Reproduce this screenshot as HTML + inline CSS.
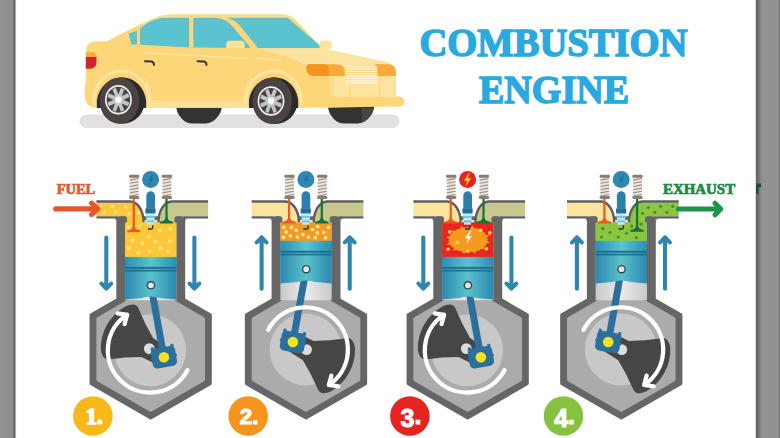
<!DOCTYPE html>
<html><head><meta charset="utf-8"><title>Combustion Engine</title>
<style>html,body{margin:0;padding:0;background:#fff;}svg{display:block;}</style></head>
<body><svg width="780" height="438" viewBox="0 0 780 438" font-family="Liberation Serif, serif">
<defs>
<linearGradient id="pist" x1="0" x2="1" y1="0" y2="0"><stop offset="0" stop-color="#2b88b1"/><stop offset="0.5" stop-color="#5bc2ca"/><stop offset="1" stop-color="#2b88b1"/></linearGradient>
<linearGradient id="pistTop" x1="0" x2="1" y1="0" y2="0"><stop offset="0" stop-color="#2d8db5"/><stop offset="0.5" stop-color="#5dc3cc"/><stop offset="1" stop-color="#2d8db5"/></linearGradient>
<linearGradient id="bore" x1="0" x2="1" y1="0" y2="0"><stop offset="0" stop-color="#c9c9c9"/><stop offset="0.5" stop-color="#ececec"/><stop offset="1" stop-color="#c9c9c9"/></linearGradient>
<linearGradient id="lbar" x1="0" x2="1"><stop offset="0" stop-color="#949494"/><stop offset="0.78" stop-color="#8c8c8c"/><stop offset="0.9" stop-color="#5a5a5a"/><stop offset="1" stop-color="#e8e8e8"/></linearGradient>
<linearGradient id="rbar" x1="0" x2="1"><stop offset="0" stop-color="#5e5e5e"/><stop offset="0.1" stop-color="#6e6e6e"/><stop offset="0.25" stop-color="#929292"/><stop offset="0.93" stop-color="#929292"/><stop offset="1" stop-color="#666"/></linearGradient>
<clipPath id="clipIn"><path d="M96.4 202.6 H130.25 A13.5 20.6 0 0 1 143.75 224 H125.1 V216.3 H96.4 Z"/></clipPath>
<clipPath id="clipEx"><path d="M208.1 202.6 H171.75 A13.5 20.6 0 0 0 158.25 224 H176.4 V216.3 H208.1 Z"/></clipPath>
</defs>
<rect width="780" height="438" fill="#fff"/>
<rect x="79.5" y="114.4" width="320" height="13.6" rx="6.8" fill="#e2e1e1"/><path d="M176.2 106 L176.2 107.5 Q177.5 116 185 121.5 Q188 123.5 192 123.5 L205 123.5 Q209 123.5 212.5 121.5 Q220.5 116 221.9 107.5 L221.9 106 Z" fill="#333333"/><path d="M328 106 L328 107.5 Q329.3 116 336.8 121.5 Q339.8 123.5 343.8 123.5 L357.2 123.5 Q361.2 123.5 364.7 121.5 Q372.7 116 374 107.5 L374 106 Z" fill="#333333"/><path d="M362 108 L374 108 Q372 118 362 122 Z" fill="#4a4443"/><path d="M93 41.5 L107 41.3 Q128 30 152 19 Q162 14.2 176 14.2 L282 14.2 Q290 14.5 295 19.5 L322.6 48.5 L386 62 Q392 63.5 393.5 67 L396 96 L400 97 Q404.2 97.5 404.2 101.5 Q404.2 106.2 399.5 106.2 L330 107.7 L96 107.7 Q86 107.4 85 98 L84.5 88 Q85.8 86 85.8 80 L85.8 52 Q86.5 43 93 41.5 Z" fill="#fdd67a"/><path d="M152 19 Q162 14.2 176 14.2 L282 14.2 Q290 14.5 295 19.5 L160 19.5 Z" fill="#fde09a" opacity="0.6"/><path d="M258 48.5 L322.6 48.5 L386 62 Q392 63.5 393.5 67 L306 65 Q290 57 258 48.5 Z" fill="#fde3a0"/><path d="M329 76 L396 76 L396 97.1 L331.5 97.1 Z" fill="#fde3a0"/><path d="M332 76 L333.5 97 M349.4 76 L350.5 97 M380.4 76 L379.6 97" stroke="#fbd57c" stroke-width="1" fill="none"/><rect x="332" y="97.1" width="72.2" height="9.1" rx="4.5" fill="#fdd67a"/><path d="M128.5 33.8 L137 30.8 L137 44.6 L131.5 44.6 Z" fill="#5bc3cf"/><path d="M140 28.5 Q150 20 162 17.8 L189.2 17.8 L189.2 47.4 L140 44.8 Z" fill="#5bc3cf"/><path d="M193.3 17.8 L216 17.8 Q226 18.5 233 27 L250.8 48 L193.3 47.6 Z" fill="#5bc3cf"/><path d="M226.2 17.8 L287.7 17.8 L322.6 48 L258 48 L240 26 Q234 19 226.2 17.8 Z" fill="#5bc3cf"/><path d="M226.2 48 L226.2 44.5 Q226.2 40.8 230 40.8 L240.8 40.8 Q244.6 40.8 244.6 44.5 L244.6 48 Z" fill="#fde39a"/><rect x="319.2" y="40.5" width="12.8" height="9.1" rx="4.2" fill="#fde39a"/><path d="M85.8 57 L85.8 54.5 Q85.8 52.2 88.5 52.2 L93 52.2 Q96.5 52.5 96.5 57 Z" fill="#f7aa35"/><path d="M85.8 57 L96.5 57 L96.5 62 Q96.5 68.7 90 68.7 L85.8 68.7 Z" fill="#d0262e"/><path d="M143.8 52.3 L187.7 55.4 M180 54.8 L247.7 58.3 M253.8 58.3 L280.5 60.3" stroke="#fde6a7" stroke-width="1.3" fill="none"/><path d="M145 61.2 L151.5 61.5 Q154 62 154 65" stroke="#3b3434" stroke-width="1.9" fill="none" stroke-linecap="round"/><path d="M197.6 61.2 L204 61.5 Q206.5 62 206.5 65" stroke="#3b3434" stroke-width="1.9" fill="none" stroke-linecap="round"/><path d="M309 64.2 L336 64.2 Q344.8 64.5 344.8 72 L344.8 76.1 L314 76.1 Q306.4 75 306.4 68 Q306.4 64.2 309 64.2 Z" fill="#f9ab3a"/><path d="M309 64.2 L324 64.2 Q329.3 65 329.3 72 L329.3 76.1 L314 76.1 Q306.4 75 306.4 68 Q306.4 64.2 309 64.2 Z" fill="#f6931e"/><path d="M374.9 64.2 L388 64.2 Q396 64.5 396 72 L396 76.1 L378 76.1 Q377 68 374.9 64.2 Z" fill="#f9ab3a"/><rect x="345.5" y="66.3" width="32" height="1.2" fill="#fff5dc"/><rect x="345.5" y="68.6" width="32" height="1.2" fill="#fff5dc"/><rect x="345.5" y="70.9" width="32" height="1.2" fill="#fff5dc"/><rect x="345.5" y="73.2" width="32" height="1.2" fill="#fff5dc"/><rect x="346.5" y="75.5" width="30.5" height="1.2" fill="#fff5dc"/><rect x="346.5" y="77.8" width="30.5" height="1.2" fill="#fff5dc"/><rect x="346.5" y="80.1" width="30.5" height="1.2" fill="#fff5dc"/><rect x="346.5" y="82.4" width="30.5" height="1.2" fill="#fff5dc"/><rect x="148" y="102.6" width="100" height="5.1" fill="#fde296"/><path d="M146 78 Q150 92 150.5 99 Q151 101.5 154 101.5 L241 101.5 Q244 101.5 244.5 98 Q246 85 252 78" stroke="#fde49c" stroke-width="1.5" fill="none"/><path d="M93.9 106 L93.9 101 A27.6 30 0 0 1 149.1 101 L149.1 106" stroke="#fde4a0" stroke-width="3" fill="none"/><path d="M96.9 108 L96.9 100 A25 27.5 0 0 1 146.1 100 L146.1 108 Z" fill="#2e2e2e"/><ellipse cx="122.3" cy="100.6" rx="22.6" ry="23.2" fill="#2c2a2a"/><ellipse cx="119.4" cy="100.6" rx="19.8" ry="23.2" fill="#4b4442"/><g transform="translate(118.4 99.8) scale(0.905 1)"><circle r="14.8" fill="#f2f2f2"/><circle r="13" fill="#454545"/><line x1="4.16" y1="1.72" x2="11.27" y2="4.67" stroke="#c4c4c4" stroke-width="4"/><line x1="1.72" y1="4.16" x2="4.67" y2="11.27" stroke="#c4c4c4" stroke-width="4"/><line x1="-1.72" y1="4.16" x2="-4.67" y2="11.27" stroke="#c4c4c4" stroke-width="4"/><line x1="-4.16" y1="1.72" x2="-11.27" y2="4.67" stroke="#c4c4c4" stroke-width="4"/><line x1="-4.16" y1="-1.72" x2="-11.27" y2="-4.67" stroke="#c4c4c4" stroke-width="4"/><line x1="-1.72" y1="-4.16" x2="-4.67" y2="-11.27" stroke="#c4c4c4" stroke-width="4"/><line x1="1.72" y1="-4.16" x2="4.67" y2="-11.27" stroke="#c4c4c4" stroke-width="4"/><line x1="4.16" y1="-1.72" x2="11.27" y2="-4.67" stroke="#c4c4c4" stroke-width="4"/><circle r="5.8" fill="#c4c4c4"/><circle r="3.4" fill="#fff"/></g><path d="M246 106 L246 101 A27.6 30 0 0 1 301.2 101 L301.2 106" stroke="#fde4a0" stroke-width="3" fill="none"/><path d="M249 108 L249 100 A25 27.5 0 0 1 298.2 100 L298.2 108 Z" fill="#2e2e2e"/><ellipse cx="275.1" cy="100.8" rx="22.6" ry="23.2" fill="#2c2a2a"/><ellipse cx="272.2" cy="100.8" rx="19.8" ry="23.2" fill="#4b4442"/><g transform="translate(271 101) scale(0.905 1)"><circle r="14.8" fill="#f2f2f2"/><circle r="13" fill="#454545"/><line x1="4.16" y1="1.72" x2="11.27" y2="4.67" stroke="#c4c4c4" stroke-width="4"/><line x1="1.72" y1="4.16" x2="4.67" y2="11.27" stroke="#c4c4c4" stroke-width="4"/><line x1="-1.72" y1="4.16" x2="-4.67" y2="11.27" stroke="#c4c4c4" stroke-width="4"/><line x1="-4.16" y1="1.72" x2="-11.27" y2="4.67" stroke="#c4c4c4" stroke-width="4"/><line x1="-4.16" y1="-1.72" x2="-11.27" y2="-4.67" stroke="#c4c4c4" stroke-width="4"/><line x1="-1.72" y1="-4.16" x2="-4.67" y2="-11.27" stroke="#c4c4c4" stroke-width="4"/><line x1="1.72" y1="-4.16" x2="4.67" y2="-11.27" stroke="#c4c4c4" stroke-width="4"/><line x1="4.16" y1="-1.72" x2="11.27" y2="-4.67" stroke="#c4c4c4" stroke-width="4"/><circle r="5.8" fill="#c4c4c4"/><circle r="3.4" fill="#fff"/></g>
<text x="553.4" y="56.3" text-anchor="middle" font-family="Liberation Serif" font-weight="bold" font-size="40.5" fill="#2aa8e0" stroke="#2aa8e0" stroke-width="1.5" textLength="268" lengthAdjust="spacingAndGlyphs">COMBUSTION</text>
<text x="554" y="103.2" text-anchor="middle" font-family="Liberation Serif" font-weight="bold" font-size="40" fill="#2aa8e0" stroke="#2aa8e0" stroke-width="1.5" textLength="150" lengthAdjust="spacingAndGlyphs">ENGINE</text>
<g transform="translate(0 0)"><polygon points="150.7,280.61 210.14,314.93 210.14,383.57 150.7,417.89 91.26,383.57 91.26,314.93" fill="#666666" stroke="#666666" stroke-width="3.4" stroke-linejoin="round"/><rect x="116.3" y="216.3" width="68.9" height="90" fill="#666666"/><polygon points="150.7,288.85 203.01,319.05 203.01,379.45 150.7,409.65 98.39,379.45 98.39,319.05" fill="#ababab" stroke="#ababab" stroke-width="4" stroke-linejoin="round"/><rect x="125.1" y="220" width="51.3" height="80.3" fill="url(#bore)"/><circle cx="150.1" cy="350.3" r="36" fill="#c8c8c8"/><path d="M100.81 349.45 A48.5 48.5 0 0 1 125.79 306.18 Q136.75 301.75 139.04 309.78 Q145.04 324.49 153.07 338.07 L167.72 347.69 A10 10 0 0 1 157.72 365.01 L142.07 357.13 Q126.29 356.96 110.55 359.13 Q102.45 361.15 100.81 349.45 Z" fill="#464646"/><circle cx="149.3" cy="348.6" r="5.4" fill="#dcdcdc"/><line x1="150.9" y1="285.3" x2="163.9" y2="357.2" stroke="#2c6f9d" stroke-width="7"/><g transform="translate(163.9 357.2) rotate(79.75)"><rect x="-10" y="-12.3" width="20" height="24.6" rx="4.5" fill="#2c6f9d"/><rect x="-11.8" y="-11.5" width="4" height="3.2" rx="1" fill="#2c6f9d"/><rect x="-11.8" y="8.3" width="4" height="3.2" rx="1" fill="#2c6f9d"/><rect x="-1.2" y="-13.2" width="2.6" height="26.4" rx="1" fill="#2c6f9d"/></g><circle cx="163.9" cy="357.2" r="5.3" fill="#f3e321"/><path d="M187.45 370.16 A42.3 42.3 0 1 1 127.06 314.82" stroke="#fff" stroke-width="4.3" fill="none" stroke-linecap="round"/><path d="M117.68 313.34 L127.06 314.82 L124.6 324" stroke="#fff" stroke-width="4.3" fill="none" stroke-linecap="round" stroke-linejoin="round"/><g><path d="M125.1 256.6 H176.4 V299.6 L159.75 298.1 Q150.75 295.1 141.75 298.1 L125.1 299.6 Z" fill="url(#pist)"/><rect x="125.1" y="256.6" width="51.3" height="10.3" fill="url(#pistTop)"/><rect x="125.1" y="266.9" width="51.3" height="1.9" fill="#1d6f91"/><rect x="125.1" y="269.9" width="51.3" height="1.6" fill="#1d6f91"/></g><circle cx="150.9" cy="285.3" r="4.3" fill="#2f4b5a"/><circle cx="150.9" cy="285.3" r="2.9" fill="#e9e4e4"/><path d="M96.4 202.6 H130.25 A13.5 20.6 0 0 1 143.75 224 H125.1 V216.3 H96.4 Z" fill="#fcc83a"/><circle cx="101" cy="206.3" r="1.8" fill="#fde28c"/><circle cx="112.5" cy="206.3" r="1.8" fill="#fde28c"/><circle cx="125.8" cy="207.3" r="1.8" fill="#fde28c"/><circle cx="104" cy="212.4" r="1.8" fill="#fde28c"/><circle cx="115.5" cy="212.4" r="1.8" fill="#fde28c"/><circle cx="129.2" cy="213.8" r="1.8" fill="#fde28c"/><circle cx="138.5" cy="213" r="1.8" fill="#fde28c"/><path d="M96.4 201.45 H130.25 A13.5 20.6 0 0 1 143.55 222.5" stroke="#5e5e5e" stroke-width="2.4" fill="none"/><rect x="96.4" y="216.3" width="20.9" height="2.2" fill="#5e5e5e"/><path d="M208.1 202.6 H171.75 A13.5 20.6 0 0 0 158.25 224 H176.4 V216.3 H208.1 Z" fill="#c9c88c"/><path d="M208.1 201.45 H171.75 A13.5 20.6 0 0 0 158.45 222.5" stroke="#5e5e5e" stroke-width="2.4" fill="none"/><rect x="184.2" y="216.3" width="23.9" height="2.2" fill="#5e5e5e"/><path d="M112.8 218.4 L116.3 218.4 L116.3 221.9 A3.5 3.5 0 0 0 112.8 218.4 Z" fill="#666666"/><path d="M188.7 218.4 L185.2 218.4 L185.2 221.9 A3.5 3.5 0 0 1 188.7 218.4 Z" fill="#666666"/><rect x="125.1" y="222.3" width="51.3" height="34.6" fill="#fcc83a"/><circle cx="128.6" cy="227.1" r="1.9" fill="#fde28c"/><circle cx="139.2" cy="225.7" r="1.9" fill="#fde28c"/><circle cx="159.8" cy="230.5" r="1.9" fill="#fde28c"/><circle cx="170.3" cy="228.5" r="1.9" fill="#fde28c"/><circle cx="148.8" cy="236.7" r="1.9" fill="#fde28c"/><circle cx="132.5" cy="240.5" r="1.9" fill="#fde28c"/><circle cx="142.1" cy="243.4" r="1.9" fill="#fde28c"/><circle cx="155.5" cy="241.5" r="1.9" fill="#fde28c"/><circle cx="169.9" cy="241" r="1.9" fill="#fde28c"/><circle cx="129.1" cy="248.2" r="1.9" fill="#fde28c"/><circle cx="138.2" cy="253" r="1.9" fill="#fde28c"/><circle cx="149.7" cy="251.6" r="1.9" fill="#fde28c"/><circle cx="160.3" cy="248.2" r="1.9" fill="#fde28c"/><circle cx="167.9" cy="251.1" r="1.9" fill="#fde28c"/><rect x="118.3" y="216.3" width="8.8" height="6.6" rx="2.6" fill="#666666"/><rect x="174.4" y="216.3" width="8.8" height="6.6" rx="2.6" fill="#666666"/><rect x="132.7" y="198" width="2.2" height="32.5" fill="#e85a24"/><path d="M132.7 226.8 Q132.2 230.1 127.1 230.5 L127.1 232.2 L140.5 232.2 L140.5 230.5 Q135.4 230.1 134.9 226.8 Z" fill="#e85a24"/><rect x="165.4" y="198" width="2.2" height="23.7" fill="#13723a"/><path d="M165.4 218 Q164.9 221.3 159.8 221.7 L159.8 223.4 L173.2 223.4 L173.2 221.7 Q168.1 221.3 167.6 218 Z" fill="#13723a"/><rect x="129.8" y="177" width="8.8" height="20" fill="#ebe5dd"/><path d="M129.8 180.1 L138.6 178.5" stroke="#9c8e84" stroke-width="1.1"/><path d="M129.8 183.3 L138.6 181.7" stroke="#9c8e84" stroke-width="1.1"/><path d="M129.8 186.5 L138.6 184.9" stroke="#9c8e84" stroke-width="1.1"/><path d="M129.8 189.7 L138.6 188.1" stroke="#9c8e84" stroke-width="1.1"/><path d="M129.8 192.9 L138.6 191.3" stroke="#9c8e84" stroke-width="1.1"/><path d="M129.8 196.1 L138.6 194.5" stroke="#9c8e84" stroke-width="1.1"/><rect x="129" y="174.8" width="10.4" height="3" rx="1.4" fill="#8a7e74"/><rect x="129" y="196" width="10.4" height="3" rx="1.4" fill="#8a7e74"/><rect x="162.5" y="177" width="8.8" height="20" fill="#ebe5dd"/><path d="M162.5 180.1 L171.3 178.5" stroke="#9c8e84" stroke-width="1.1"/><path d="M162.5 183.3 L171.3 181.7" stroke="#9c8e84" stroke-width="1.1"/><path d="M162.5 186.5 L171.3 184.9" stroke="#9c8e84" stroke-width="1.1"/><path d="M162.5 189.7 L171.3 188.1" stroke="#9c8e84" stroke-width="1.1"/><path d="M162.5 192.9 L171.3 191.3" stroke="#9c8e84" stroke-width="1.1"/><path d="M162.5 196.1 L171.3 194.5" stroke="#9c8e84" stroke-width="1.1"/><rect x="161.7" y="174.8" width="10.4" height="3" rx="1.4" fill="#8a7e74"/><rect x="161.7" y="196" width="10.4" height="3" rx="1.4" fill="#8a7e74"/><circle cx="150.6" cy="179.6" r="8.5" fill="#2e88b1"/><path d="M152.6 174.6 L148 180.4 L150.5 180.4 L148.8 184.8 L153.6 178.6 L151 178.6 L153.4 174.6 Z" fill="#216d96"/><path d="M146.3 208.5 V195.5 A4.35 4.35 0 0 1 155 195.5 V208.5 Z" fill="#2b7fab"/><rect x="145.4" y="208.2" width="10.2" height="5.6" rx="1" fill="#246f98"/><rect x="145.7" y="213.6" width="9.6" height="2.25" fill="#c2ebf4"/><rect x="146.05" y="215.8" width="8.9" height="2.25" fill="#72c9de"/><rect x="146.4" y="218" width="8.2" height="2.25" fill="#c2ebf4"/><rect x="146.75" y="220.2" width="7.5" height="2.25" fill="#72c9de"/><rect x="147.1" y="222.4" width="6.8" height="2.25" fill="#c2ebf4"/><path d="M152.8 225.2 V227.4 Q152.8 229 151 229 H148" stroke="#1f3b2c" stroke-width="1.4" fill="none"/><path d="M106.3 237.6 L106.3 288.6 M101.5 283.6 L106.3 288.6 L111.1 283.6" stroke="#2f85ae" stroke-width="4.1" fill="none" stroke-linecap="round" stroke-linejoin="round"/><path d="M194.4 237.6 L194.4 288.6 M189.6 283.6 L194.4 288.6 L199.2 283.6" stroke="#2f85ae" stroke-width="4.1" fill="none" stroke-linecap="round" stroke-linejoin="round"/><circle cx="92.9" cy="416" r="19.8" fill="#f6b919"/><text x="94.2" y="423.8" text-anchor="middle" font-family="Liberation Serif" font-weight="bold" font-size="22.5" fill="#fff" stroke="#fff" stroke-width="1.7" stroke-linejoin="round">1.</text></g>
<g transform="translate(155.3 0)"><polygon points="150.7,280.61 210.14,314.93 210.14,383.57 150.7,417.89 91.26,383.57 91.26,314.93" fill="#666666" stroke="#666666" stroke-width="3.4" stroke-linejoin="round"/><rect x="116.3" y="216.3" width="68.9" height="90" fill="#666666"/><polygon points="150.7,288.85 203.01,319.05 203.01,379.45 150.7,409.65 98.39,379.45 98.39,319.05" fill="#ababab" stroke="#ababab" stroke-width="4" stroke-linejoin="round"/><rect x="125.1" y="220" width="51.3" height="80.3" fill="url(#bore)"/><circle cx="150.3" cy="349.6" r="36" fill="#c8c8c8"/><path d="M199.67 347.91 A48.5 48.5 0 0 1 175.45 391.6 Q164.57 396.22 162.13 388.24 Q155.88 373.63 147.62 360.19 L132.8 350.83 A10 10 0 0 1 142.49 333.34 L158.28 340.95 Q174.06 340.84 189.76 338.4 Q197.82 336.23 199.67 347.91 Z" fill="#464646"/><circle cx="151.2" cy="349.6" r="5.4" fill="#dcdcdc"/><line x1="150.9" y1="269.2" x2="137.6" y2="342" stroke="#2c6f9d" stroke-width="7"/><g transform="translate(137.6 342) rotate(100.35)"><rect x="-10" y="-12.3" width="20" height="24.6" rx="4.5" fill="#2c6f9d"/><rect x="-11.8" y="-11.5" width="4" height="3.2" rx="1" fill="#2c6f9d"/><rect x="-11.8" y="8.3" width="4" height="3.2" rx="1" fill="#2c6f9d"/><rect x="-1.2" y="-13.2" width="2.6" height="26.4" rx="1" fill="#2c6f9d"/></g><circle cx="137.6" cy="342" r="5.3" fill="#f3e321"/><path d="M112.95 329.74 A42.3 42.3 0 1 1 173.65 384.87" stroke="#fff" stroke-width="4.3" fill="none" stroke-linecap="round"/><path d="M183.04 386.28 L173.65 384.87 L176.03 375.68" stroke="#fff" stroke-width="4.3" fill="none" stroke-linecap="round" stroke-linejoin="round"/><g><path d="M125.1 240.5 H176.4 V283.5 L159.75 282 Q150.75 279 141.75 282 L125.1 283.5 Z" fill="url(#pist)"/><rect x="125.1" y="240.5" width="51.3" height="10.3" fill="url(#pistTop)"/><rect x="125.1" y="250.8" width="51.3" height="1.9" fill="#1d6f91"/><rect x="125.1" y="253.8" width="51.3" height="1.6" fill="#1d6f91"/></g><circle cx="150.9" cy="269.2" r="4.3" fill="#2f4b5a"/><circle cx="150.9" cy="269.2" r="2.9" fill="#e9e4e4"/><path d="M96.4 202.6 H130.25 A13.5 20.6 0 0 1 143.75 224 H125.1 V216.3 H96.4 Z" fill="#fde49d"/><path d="M96.4 201.45 H130.25 A13.5 20.6 0 0 1 143.55 222.5" stroke="#5e5e5e" stroke-width="2.4" fill="none"/><rect x="96.4" y="216.3" width="20.9" height="2.2" fill="#5e5e5e"/><path d="M208.1 202.6 H171.75 A13.5 20.6 0 0 0 158.25 224 H176.4 V216.3 H208.1 Z" fill="#c9c88c"/><path d="M208.1 201.45 H171.75 A13.5 20.6 0 0 0 158.45 222.5" stroke="#5e5e5e" stroke-width="2.4" fill="none"/><rect x="184.2" y="216.3" width="23.9" height="2.2" fill="#5e5e5e"/><path d="M112.8 218.4 L116.3 218.4 L116.3 221.9 A3.5 3.5 0 0 0 112.8 218.4 Z" fill="#666666"/><path d="M188.7 218.4 L185.2 218.4 L185.2 221.9 A3.5 3.5 0 0 1 188.7 218.4 Z" fill="#666666"/><rect x="125.1" y="222.3" width="51.3" height="18.5" fill="#f39a24"/><circle cx="128.6" cy="227.3" r="1.85" fill="#fde39a"/><circle cx="136.1" cy="227.3" r="1.85" fill="#fde39a"/><circle cx="140.9" cy="230.3" r="1.85" fill="#fde39a"/><circle cx="130.9" cy="232.1" r="1.85" fill="#fde39a"/><circle cx="135" cy="235.8" r="1.85" fill="#fde39a"/><circle cx="128.3" cy="237.3" r="1.85" fill="#fde39a"/><circle cx="142" cy="237" r="1.85" fill="#fde39a"/><circle cx="147.6" cy="234.4" r="1.85" fill="#fde39a"/><circle cx="153.2" cy="237" r="1.85" fill="#fde39a"/><circle cx="157.3" cy="229.5" r="1.85" fill="#fde39a"/><circle cx="162.5" cy="226.6" r="1.85" fill="#fde39a"/><circle cx="162.1" cy="232.9" r="1.85" fill="#fde39a"/><circle cx="159.9" cy="237.7" r="1.85" fill="#fde39a"/><circle cx="168.4" cy="232.5" r="1.85" fill="#fde39a"/><circle cx="173.3" cy="227.3" r="1.85" fill="#fde39a"/><circle cx="170.3" cy="237.7" r="1.85" fill="#fde39a"/><rect x="118.3" y="216.3" width="8.8" height="6.6" rx="2.6" fill="#666666"/><rect x="174.4" y="216.3" width="8.8" height="6.6" rx="2.6" fill="#666666"/><rect x="132.7" y="198" width="2.2" height="23.7" fill="#e85a24"/><path d="M132.7 218 Q132.2 221.3 127.1 221.7 L127.1 223.4 L140.5 223.4 L140.5 221.7 Q135.4 221.3 134.9 218 Z" fill="#e85a24"/><rect x="165.4" y="198" width="2.2" height="23.7" fill="#13723a"/><path d="M165.4 218 Q164.9 221.3 159.8 221.7 L159.8 223.4 L173.2 223.4 L173.2 221.7 Q168.1 221.3 167.6 218 Z" fill="#13723a"/><rect x="129.8" y="177" width="8.8" height="20" fill="#ebe5dd"/><path d="M129.8 180.1 L138.6 178.5" stroke="#9c8e84" stroke-width="1.1"/><path d="M129.8 183.3 L138.6 181.7" stroke="#9c8e84" stroke-width="1.1"/><path d="M129.8 186.5 L138.6 184.9" stroke="#9c8e84" stroke-width="1.1"/><path d="M129.8 189.7 L138.6 188.1" stroke="#9c8e84" stroke-width="1.1"/><path d="M129.8 192.9 L138.6 191.3" stroke="#9c8e84" stroke-width="1.1"/><path d="M129.8 196.1 L138.6 194.5" stroke="#9c8e84" stroke-width="1.1"/><rect x="129" y="174.8" width="10.4" height="3" rx="1.4" fill="#8a7e74"/><rect x="129" y="196" width="10.4" height="3" rx="1.4" fill="#8a7e74"/><rect x="162.5" y="177" width="8.8" height="20" fill="#ebe5dd"/><path d="M162.5 180.1 L171.3 178.5" stroke="#9c8e84" stroke-width="1.1"/><path d="M162.5 183.3 L171.3 181.7" stroke="#9c8e84" stroke-width="1.1"/><path d="M162.5 186.5 L171.3 184.9" stroke="#9c8e84" stroke-width="1.1"/><path d="M162.5 189.7 L171.3 188.1" stroke="#9c8e84" stroke-width="1.1"/><path d="M162.5 192.9 L171.3 191.3" stroke="#9c8e84" stroke-width="1.1"/><path d="M162.5 196.1 L171.3 194.5" stroke="#9c8e84" stroke-width="1.1"/><rect x="161.7" y="174.8" width="10.4" height="3" rx="1.4" fill="#8a7e74"/><rect x="161.7" y="196" width="10.4" height="3" rx="1.4" fill="#8a7e74"/><circle cx="150.6" cy="179.6" r="8.5" fill="#2e88b1"/><path d="M152.6 174.6 L148 180.4 L150.5 180.4 L148.8 184.8 L153.6 178.6 L151 178.6 L153.4 174.6 Z" fill="#216d96"/><path d="M146.3 208.5 V195.5 A4.35 4.35 0 0 1 155 195.5 V208.5 Z" fill="#2b7fab"/><rect x="145.4" y="208.2" width="10.2" height="5.6" rx="1" fill="#246f98"/><rect x="145.7" y="213.6" width="9.6" height="2.25" fill="#c2ebf4"/><rect x="146.05" y="215.8" width="8.9" height="2.25" fill="#72c9de"/><rect x="146.4" y="218" width="8.2" height="2.25" fill="#c2ebf4"/><rect x="146.75" y="220.2" width="7.5" height="2.25" fill="#72c9de"/><rect x="147.1" y="222.4" width="6.8" height="2.25" fill="#c2ebf4"/><path d="M152.8 225.2 V227.4 Q152.8 229 151 229 H148" stroke="#1f3b2c" stroke-width="1.4" fill="none"/><path d="M106.3 288.7 L106.3 237.4 M101.5 242.4 L106.3 237.4 L111.1 242.4" stroke="#2f85ae" stroke-width="4.1" fill="none" stroke-linecap="round" stroke-linejoin="round"/><path d="M194.4 288.7 L194.4 237.4 M189.6 242.4 L194.4 237.4 L199.2 242.4" stroke="#2f85ae" stroke-width="4.1" fill="none" stroke-linecap="round" stroke-linejoin="round"/><circle cx="92.9" cy="416" r="19.8" fill="#f7941e"/><text x="93.8" y="423.7" text-anchor="middle" font-family="Liberation Sans" font-weight="bold" font-size="22.5" fill="#fff" stroke="#fff" stroke-width="1">2.</text></g>
<g transform="translate(317 0)"><polygon points="150.7,280.61 210.14,314.93 210.14,383.57 150.7,417.89 91.26,383.57 91.26,314.93" fill="#666666" stroke="#666666" stroke-width="3.4" stroke-linejoin="round"/><rect x="116.3" y="216.3" width="68.9" height="90" fill="#666666"/><polygon points="150.7,288.85 203.01,319.05 203.01,379.45 150.7,409.65 98.39,379.45 98.39,319.05" fill="#ababab" stroke="#ababab" stroke-width="4" stroke-linejoin="round"/><rect x="125.1" y="220" width="51.3" height="80.3" fill="url(#bore)"/><circle cx="150.1" cy="350.3" r="36" fill="#c8c8c8"/><path d="M100.81 349.45 A48.5 48.5 0 0 1 125.79 306.18 Q136.75 301.75 139.04 309.78 Q145.04 324.49 153.07 338.07 L167.72 347.69 A10 10 0 0 1 157.72 365.01 L142.07 357.13 Q126.29 356.96 110.55 359.13 Q102.45 361.15 100.81 349.45 Z" fill="#464646"/><circle cx="149.3" cy="348.6" r="5.4" fill="#dcdcdc"/><line x1="150.9" y1="285.3" x2="163.9" y2="357.2" stroke="#2c6f9d" stroke-width="7"/><g transform="translate(163.9 357.2) rotate(79.75)"><rect x="-10" y="-12.3" width="20" height="24.6" rx="4.5" fill="#2c6f9d"/><rect x="-11.8" y="-11.5" width="4" height="3.2" rx="1" fill="#2c6f9d"/><rect x="-11.8" y="8.3" width="4" height="3.2" rx="1" fill="#2c6f9d"/><rect x="-1.2" y="-13.2" width="2.6" height="26.4" rx="1" fill="#2c6f9d"/></g><circle cx="163.9" cy="357.2" r="5.3" fill="#f3e321"/><path d="M187.45 370.16 A42.3 42.3 0 1 1 127.06 314.82" stroke="#fff" stroke-width="4.3" fill="none" stroke-linecap="round"/><path d="M117.68 313.34 L127.06 314.82 L124.6 324" stroke="#fff" stroke-width="4.3" fill="none" stroke-linecap="round" stroke-linejoin="round"/><g><path d="M125.1 256.6 H176.4 V299.6 L159.75 298.1 Q150.75 295.1 141.75 298.1 L125.1 299.6 Z" fill="url(#pist)"/><rect x="125.1" y="256.6" width="51.3" height="10.3" fill="url(#pistTop)"/><rect x="125.1" y="266.9" width="51.3" height="1.9" fill="#1d6f91"/><rect x="125.1" y="269.9" width="51.3" height="1.6" fill="#1d6f91"/></g><circle cx="150.9" cy="285.3" r="4.3" fill="#2f4b5a"/><circle cx="150.9" cy="285.3" r="2.9" fill="#e9e4e4"/><path d="M96.4 202.6 H130.25 A13.5 20.6 0 0 1 143.75 224 H125.1 V216.3 H96.4 Z" fill="#fde49d"/><path d="M96.4 201.45 H130.25 A13.5 20.6 0 0 1 143.55 222.5" stroke="#5e5e5e" stroke-width="2.4" fill="none"/><rect x="96.4" y="216.3" width="20.9" height="2.2" fill="#5e5e5e"/><path d="M208.1 202.6 H171.75 A13.5 20.6 0 0 0 158.25 224 H176.4 V216.3 H208.1 Z" fill="#c9c88c"/><path d="M208.1 201.45 H171.75 A13.5 20.6 0 0 0 158.45 222.5" stroke="#5e5e5e" stroke-width="2.4" fill="none"/><rect x="184.2" y="216.3" width="23.9" height="2.2" fill="#5e5e5e"/><path d="M112.8 218.4 L116.3 218.4 L116.3 221.9 A3.5 3.5 0 0 0 112.8 218.4 Z" fill="#666666"/><path d="M188.7 218.4 L185.2 218.4 L185.2 221.9 A3.5 3.5 0 0 1 188.7 218.4 Z" fill="#666666"/><rect x="125.1" y="222.3" width="51.3" height="34.6" fill="#e6261f"/><ellipse cx="151.2" cy="239.8" rx="17" ry="11" fill="#f6991f"/><path d="M173.55 242.7 Q167.1 243.42 169.57 245.65 Q165.3 245.74 168.29 249.47 Q162.14 248.03 162.54 250.75 Q158.77 249.45 158.45 253.64 Q154.25 250.43 152.47 252.91 Q150.22 250.59 146.67 254.11 Q145.54 249.98 142.06 251.56 Q141.93 248.83 136.1 250.74 Q138.35 246.8 134.1 247.06 Q136.12 244.65 129.58 244.44 Q134.61 241.75 130.72 240.61 Q134.36 239.17 128.85 236.9 Q135.3 236.18 132.83 233.95 Q137.1 233.86 134.11 230.13 Q140.26 231.57 139.86 228.85 Q143.63 230.15 143.95 225.96 Q148.15 229.17 149.93 226.69 Q152.18 229.01 155.73 225.49 Q156.86 229.62 160.34 228.04 Q160.47 230.77 166.3 228.86 Q164.05 232.8 168.3 232.54 Q166.28 234.95 172.82 235.16 Q167.79 237.85 171.68 238.99 Q168.04 240.43 173.55 242.7Z" fill="#f6991f"/><circle cx="132.6" cy="231.9" r="1.8" fill="#fcd35a"/><circle cx="163.3" cy="230.2" r="1.8" fill="#fcd35a"/><circle cx="172.9" cy="232.9" r="1.8" fill="#fcd35a"/><circle cx="140.3" cy="242.4" r="1.8" fill="#fcd35a"/><circle cx="131.1" cy="249.2" r="1.8" fill="#fcd35a"/><circle cx="150.8" cy="251.1" r="1.8" fill="#fcd35a"/><circle cx="169.5" cy="248.7" r="1.8" fill="#fcd35a"/><path d="M153 230.8 L148.2 238.2 L151.2 238.2 L149 244.2 L154.8 236.2 L151.8 236.2 L154.4 230.8 Z" fill="#fff"/><rect x="118.3" y="216.3" width="8.8" height="6.6" rx="2.6" fill="#666666"/><rect x="174.4" y="216.3" width="8.8" height="6.6" rx="2.6" fill="#666666"/><rect x="132.7" y="198" width="2.2" height="23.7" fill="#e85a24"/><path d="M132.7 218 Q132.2 221.3 127.1 221.7 L127.1 223.4 L140.5 223.4 L140.5 221.7 Q135.4 221.3 134.9 218 Z" fill="#e85a24"/><rect x="165.4" y="198" width="2.2" height="23.7" fill="#13723a"/><path d="M165.4 218 Q164.9 221.3 159.8 221.7 L159.8 223.4 L173.2 223.4 L173.2 221.7 Q168.1 221.3 167.6 218 Z" fill="#13723a"/><rect x="129.8" y="177" width="8.8" height="20" fill="#ebe5dd"/><path d="M129.8 180.1 L138.6 178.5" stroke="#9c8e84" stroke-width="1.1"/><path d="M129.8 183.3 L138.6 181.7" stroke="#9c8e84" stroke-width="1.1"/><path d="M129.8 186.5 L138.6 184.9" stroke="#9c8e84" stroke-width="1.1"/><path d="M129.8 189.7 L138.6 188.1" stroke="#9c8e84" stroke-width="1.1"/><path d="M129.8 192.9 L138.6 191.3" stroke="#9c8e84" stroke-width="1.1"/><path d="M129.8 196.1 L138.6 194.5" stroke="#9c8e84" stroke-width="1.1"/><rect x="129" y="174.8" width="10.4" height="3" rx="1.4" fill="#8a7e74"/><rect x="129" y="196" width="10.4" height="3" rx="1.4" fill="#8a7e74"/><rect x="162.5" y="177" width="8.8" height="20" fill="#ebe5dd"/><path d="M162.5 180.1 L171.3 178.5" stroke="#9c8e84" stroke-width="1.1"/><path d="M162.5 183.3 L171.3 181.7" stroke="#9c8e84" stroke-width="1.1"/><path d="M162.5 186.5 L171.3 184.9" stroke="#9c8e84" stroke-width="1.1"/><path d="M162.5 189.7 L171.3 188.1" stroke="#9c8e84" stroke-width="1.1"/><path d="M162.5 192.9 L171.3 191.3" stroke="#9c8e84" stroke-width="1.1"/><path d="M162.5 196.1 L171.3 194.5" stroke="#9c8e84" stroke-width="1.1"/><rect x="161.7" y="174.8" width="10.4" height="3" rx="1.4" fill="#8a7e74"/><rect x="161.7" y="196" width="10.4" height="3" rx="1.4" fill="#8a7e74"/><circle cx="150.6" cy="179.6" r="8.5" fill="#e52421"/><path d="M152.3 172.8 L146.8 180.8 L150.3 180.8 L148.3 186.5 L154.3 178.3 L150.8 178.3 L152.8 172.8 Z" fill="#fbd12e"/><path d="M146.3 208.5 V195.5 A4.35 4.35 0 0 1 155 195.5 V208.5 Z" fill="#2b7fab"/><rect x="145.4" y="208.2" width="10.2" height="5.6" rx="1" fill="#246f98"/><rect x="145.7" y="213.6" width="9.6" height="2.25" fill="#c2ebf4"/><rect x="146.05" y="215.8" width="8.9" height="2.25" fill="#72c9de"/><rect x="146.4" y="218" width="8.2" height="2.25" fill="#c2ebf4"/><rect x="146.75" y="220.2" width="7.5" height="2.25" fill="#72c9de"/><rect x="147.1" y="222.4" width="6.8" height="2.25" fill="#c2ebf4"/><path d="M152.8 225.2 V227.4 Q152.8 229 151 229 H148" stroke="#1f3b2c" stroke-width="1.4" fill="none"/><path d="M106.3 237.6 L106.3 288.6 M101.5 283.6 L106.3 288.6 L111.1 283.6" stroke="#2f85ae" stroke-width="4.1" fill="none" stroke-linecap="round" stroke-linejoin="round"/><path d="M194.4 237.6 L194.4 288.6 M189.6 283.6 L194.4 288.6 L199.2 283.6" stroke="#2f85ae" stroke-width="4.1" fill="none" stroke-linecap="round" stroke-linejoin="round"/><circle cx="92.9" cy="416" r="19.8" fill="#e5231f"/><text x="94" y="426.6" text-anchor="middle" font-family="Liberation Sans" font-weight="bold" font-size="25" fill="#fff" stroke="#fff" stroke-width="1">3<tspan dy="-2.9">.</tspan></text></g>
<g transform="translate(470.6 0)"><polygon points="150.7,280.61 210.14,314.93 210.14,383.57 150.7,417.89 91.26,383.57 91.26,314.93" fill="#666666" stroke="#666666" stroke-width="3.4" stroke-linejoin="round"/><rect x="116.3" y="216.3" width="68.9" height="90" fill="#666666"/><polygon points="150.7,288.85 203.01,319.05 203.01,379.45 150.7,409.65 98.39,379.45 98.39,319.05" fill="#ababab" stroke="#ababab" stroke-width="4" stroke-linejoin="round"/><rect x="125.1" y="220" width="51.3" height="80.3" fill="url(#bore)"/><circle cx="150.3" cy="349.6" r="36" fill="#c8c8c8"/><path d="M199.67 347.91 A48.5 48.5 0 0 1 175.45 391.6 Q164.57 396.22 162.13 388.24 Q155.88 373.63 147.62 360.19 L132.8 350.83 A10 10 0 0 1 142.49 333.34 L158.28 340.95 Q174.06 340.84 189.76 338.4 Q197.82 336.23 199.67 347.91 Z" fill="#464646"/><circle cx="151.2" cy="349.6" r="5.4" fill="#dcdcdc"/><line x1="150.9" y1="269.2" x2="137.6" y2="342" stroke="#2c6f9d" stroke-width="7"/><g transform="translate(137.6 342) rotate(100.35)"><rect x="-10" y="-12.3" width="20" height="24.6" rx="4.5" fill="#2c6f9d"/><rect x="-11.8" y="-11.5" width="4" height="3.2" rx="1" fill="#2c6f9d"/><rect x="-11.8" y="8.3" width="4" height="3.2" rx="1" fill="#2c6f9d"/><rect x="-1.2" y="-13.2" width="2.6" height="26.4" rx="1" fill="#2c6f9d"/></g><circle cx="137.6" cy="342" r="5.3" fill="#f3e321"/><path d="M112.95 329.74 A42.3 42.3 0 1 1 173.65 384.87" stroke="#fff" stroke-width="4.3" fill="none" stroke-linecap="round"/><path d="M183.04 386.28 L173.65 384.87 L176.03 375.68" stroke="#fff" stroke-width="4.3" fill="none" stroke-linecap="round" stroke-linejoin="round"/><g><path d="M125.1 240.5 H176.4 V283.5 L159.75 282 Q150.75 279 141.75 282 L125.1 283.5 Z" fill="url(#pist)"/><rect x="125.1" y="240.5" width="51.3" height="10.3" fill="url(#pistTop)"/><rect x="125.1" y="250.8" width="51.3" height="1.9" fill="#1d6f91"/><rect x="125.1" y="253.8" width="51.3" height="1.6" fill="#1d6f91"/></g><circle cx="150.9" cy="269.2" r="4.3" fill="#2f4b5a"/><circle cx="150.9" cy="269.2" r="2.9" fill="#e9e4e4"/><path d="M96.4 202.6 H130.25 A13.5 20.6 0 0 1 143.75 224 H125.1 V216.3 H96.4 Z" fill="#fde49d"/><path d="M96.4 201.45 H130.25 A13.5 20.6 0 0 1 143.55 222.5" stroke="#5e5e5e" stroke-width="2.4" fill="none"/><rect x="96.4" y="216.3" width="20.9" height="2.2" fill="#5e5e5e"/><path d="M208.1 202.6 H171.75 A13.5 20.6 0 0 0 158.25 224 H176.4 V216.3 H208.1 Z" fill="#8cc63f"/><circle cx="177.7" cy="207.5" r="1.6" fill="#4e8c2c"/><circle cx="189.9" cy="206.3" r="1.6" fill="#4e8c2c"/><circle cx="202.1" cy="206.3" r="1.6" fill="#4e8c2c"/><circle cx="172" cy="213.3" r="1.6" fill="#4e8c2c"/><circle cx="184.1" cy="212.4" r="1.6" fill="#4e8c2c"/><circle cx="196.3" cy="212.4" r="1.6" fill="#4e8c2c"/><path d="M208.1 201.45 H171.75 A13.5 20.6 0 0 0 158.45 222.5" stroke="#5e5e5e" stroke-width="2.4" fill="none"/><rect x="184.2" y="216.3" width="23.9" height="2.2" fill="#5e5e5e"/><path d="M112.8 218.4 L116.3 218.4 L116.3 221.9 A3.5 3.5 0 0 0 112.8 218.4 Z" fill="#666666"/><path d="M188.7 218.4 L185.2 218.4 L185.2 221.9 A3.5 3.5 0 0 1 188.7 218.4 Z" fill="#666666"/><rect x="125.1" y="222.3" width="51.3" height="18.5" fill="#8cc63f"/><circle cx="132.2" cy="228.7" r="1.6" fill="#4e8c2c"/><circle cx="139.3" cy="232.5" r="1.6" fill="#4e8c2c"/><circle cx="130.9" cy="237" r="1.6" fill="#4e8c2c"/><circle cx="147.6" cy="237" r="1.6" fill="#4e8c2c"/><circle cx="155.9" cy="233.2" r="1.6" fill="#4e8c2c"/><circle cx="165.6" cy="237.7" r="1.6" fill="#4e8c2c"/><circle cx="170.4" cy="224.2" r="1.6" fill="#4e8c2c"/><circle cx="161.1" cy="226.1" r="1.6" fill="#4e8c2c"/><rect x="118.3" y="216.3" width="8.8" height="6.6" rx="2.6" fill="#666666"/><rect x="174.4" y="216.3" width="8.8" height="6.6" rx="2.6" fill="#666666"/><rect x="132.7" y="198" width="2.2" height="23.7" fill="#e85a24"/><path d="M132.7 218 Q132.2 221.3 127.1 221.7 L127.1 223.4 L140.5 223.4 L140.5 221.7 Q135.4 221.3 134.9 218 Z" fill="#e85a24"/><rect x="165.4" y="198" width="2.2" height="32" fill="#13723a"/><path d="M165.4 226.3 Q164.9 229.6 159.8 230 L159.8 231.7 L173.2 231.7 L173.2 230 Q168.1 229.6 167.6 226.3 Z" fill="#13723a"/><rect x="129.8" y="177" width="8.8" height="20" fill="#ebe5dd"/><path d="M129.8 180.1 L138.6 178.5" stroke="#9c8e84" stroke-width="1.1"/><path d="M129.8 183.3 L138.6 181.7" stroke="#9c8e84" stroke-width="1.1"/><path d="M129.8 186.5 L138.6 184.9" stroke="#9c8e84" stroke-width="1.1"/><path d="M129.8 189.7 L138.6 188.1" stroke="#9c8e84" stroke-width="1.1"/><path d="M129.8 192.9 L138.6 191.3" stroke="#9c8e84" stroke-width="1.1"/><path d="M129.8 196.1 L138.6 194.5" stroke="#9c8e84" stroke-width="1.1"/><rect x="129" y="174.8" width="10.4" height="3" rx="1.4" fill="#8a7e74"/><rect x="129" y="196" width="10.4" height="3" rx="1.4" fill="#8a7e74"/><rect x="162.5" y="177" width="8.8" height="20" fill="#ebe5dd"/><path d="M162.5 180.1 L171.3 178.5" stroke="#9c8e84" stroke-width="1.1"/><path d="M162.5 183.3 L171.3 181.7" stroke="#9c8e84" stroke-width="1.1"/><path d="M162.5 186.5 L171.3 184.9" stroke="#9c8e84" stroke-width="1.1"/><path d="M162.5 189.7 L171.3 188.1" stroke="#9c8e84" stroke-width="1.1"/><path d="M162.5 192.9 L171.3 191.3" stroke="#9c8e84" stroke-width="1.1"/><path d="M162.5 196.1 L171.3 194.5" stroke="#9c8e84" stroke-width="1.1"/><rect x="161.7" y="174.8" width="10.4" height="3" rx="1.4" fill="#8a7e74"/><rect x="161.7" y="196" width="10.4" height="3" rx="1.4" fill="#8a7e74"/><circle cx="150.6" cy="179.6" r="8.5" fill="#2e88b1"/><path d="M152.6 174.6 L148 180.4 L150.5 180.4 L148.8 184.8 L153.6 178.6 L151 178.6 L153.4 174.6 Z" fill="#216d96"/><path d="M146.3 208.5 V195.5 A4.35 4.35 0 0 1 155 195.5 V208.5 Z" fill="#2b7fab"/><rect x="145.4" y="208.2" width="10.2" height="5.6" rx="1" fill="#246f98"/><rect x="145.7" y="213.6" width="9.6" height="2.25" fill="#c2ebf4"/><rect x="146.05" y="215.8" width="8.9" height="2.25" fill="#72c9de"/><rect x="146.4" y="218" width="8.2" height="2.25" fill="#c2ebf4"/><rect x="146.75" y="220.2" width="7.5" height="2.25" fill="#72c9de"/><rect x="147.1" y="222.4" width="6.8" height="2.25" fill="#c2ebf4"/><path d="M152.8 225.2 V227.4 Q152.8 229 151 229 H148" stroke="#1f3b2c" stroke-width="1.4" fill="none"/><path d="M106.3 288.7 L106.3 237.4 M101.5 242.4 L106.3 237.4 L111.1 242.4" stroke="#2f85ae" stroke-width="4.1" fill="none" stroke-linecap="round" stroke-linejoin="round"/><path d="M194.4 288.7 L194.4 237.4 M189.6 242.4 L194.4 237.4 L199.2 242.4" stroke="#2f85ae" stroke-width="4.1" fill="none" stroke-linecap="round" stroke-linejoin="round"/><circle cx="92.9" cy="416" r="19.8" fill="#86c240"/><text x="94" y="426.6" text-anchor="middle" font-family="Liberation Sans" font-weight="bold" font-size="25" fill="#fff" stroke="#fff" stroke-width="1">4<tspan dy="-2.9">.</tspan></text></g>
<text x="56.8" y="194" font-family="Liberation Serif" font-weight="bold" font-size="14" fill="#e2572b" stroke="#e2572b" stroke-width="0.7" textLength="38.4" lengthAdjust="spacingAndGlyphs">FUEL</text>
<path d="M55.7 208.9 H97.5 M91.5 203.2 L97.8 208.9 L91.5 214.6" stroke="#e8552a" stroke-width="5.1" fill="none" stroke-linecap="round" stroke-linejoin="round"/>
<text x="663.1" y="194" font-family="Liberation Serif" font-weight="bold" font-size="14" fill="#1b8a45" stroke="#1b8a45" stroke-width="0.7" textLength="72" lengthAdjust="spacingAndGlyphs">EXHAUST</text>
<path d="M678.5 209 H720.5 M715 203.3 L720.8 209 L715 214.7" stroke="#1a9648" stroke-width="5.1" fill="none" stroke-linecap="round" stroke-linejoin="round"/>
<rect x="0" y="0" width="16.2" height="438" fill="url(#lbar)"/>
<rect x="755.8" y="0" width="24.2" height="438" fill="url(#rbar)"/>
<path d="M756 183.5 H761 V187.3 H758.6 V194 H756 Z" fill="#1f4d33"/>
</svg></body></html>
